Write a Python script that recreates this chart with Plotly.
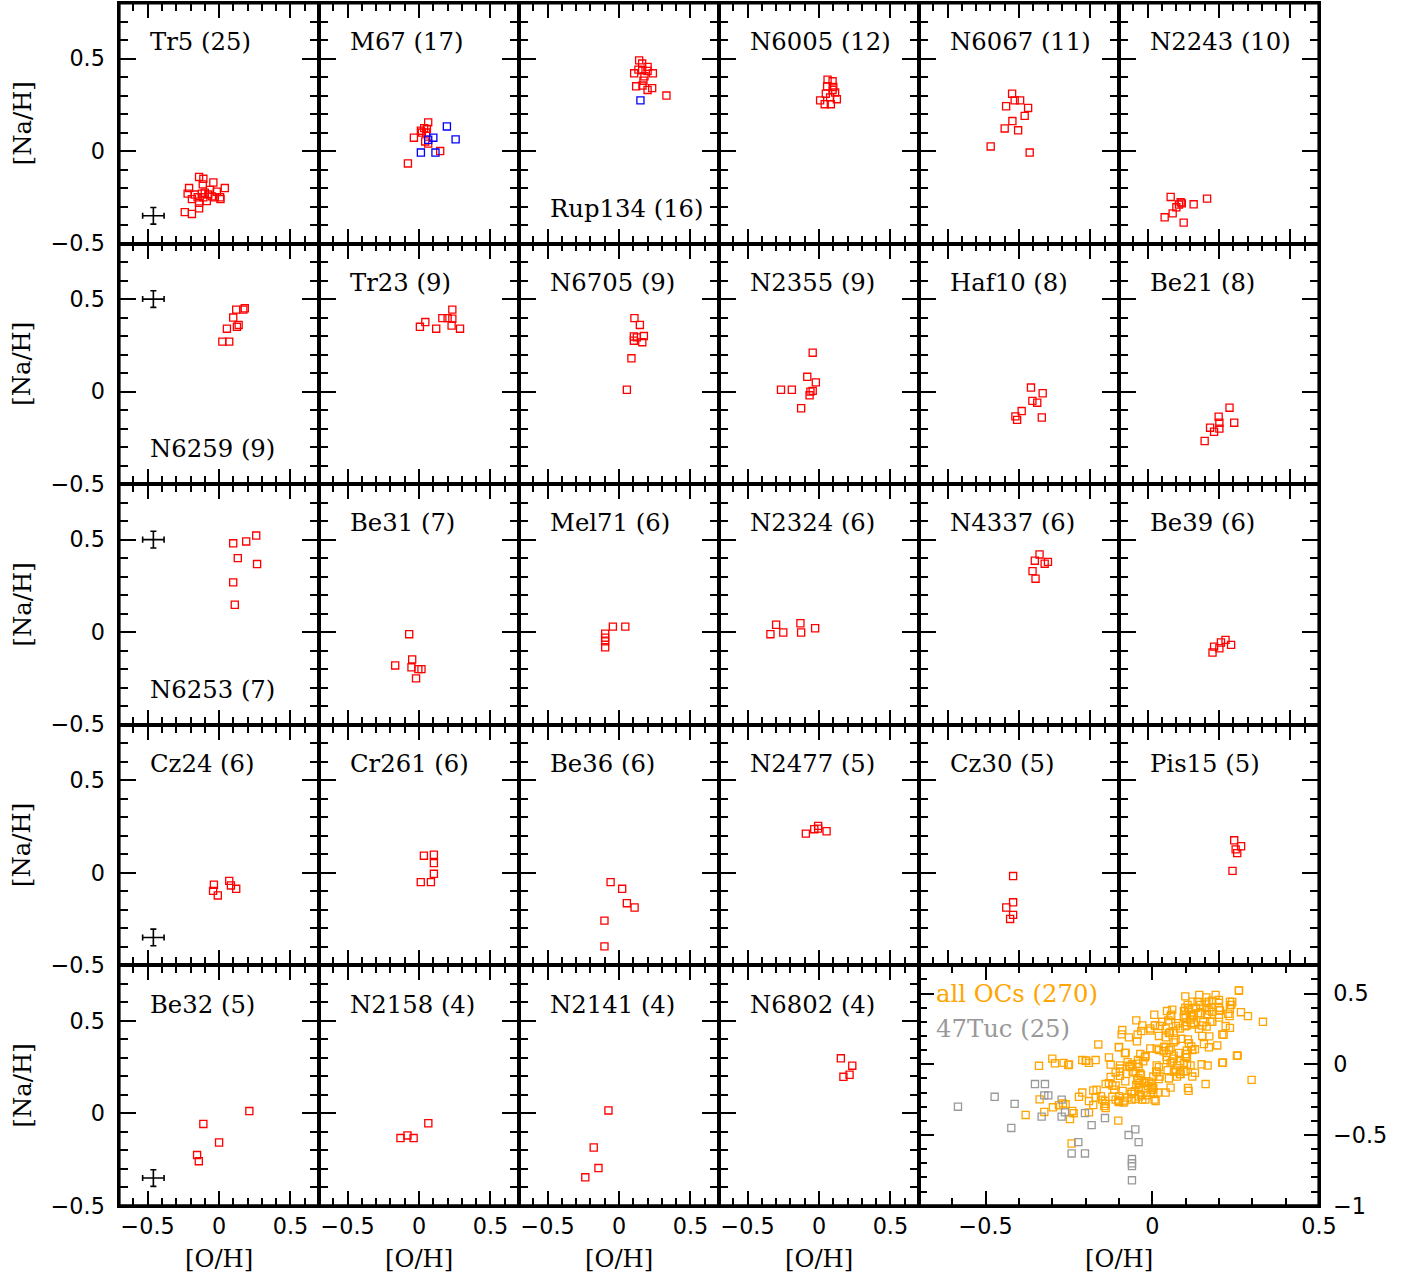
import plotly.graph_objects as go

W, H = 1421, 1274          # target picture size (reference pixels)
# the page is photographed slightly reduced (about 1421/1440), so the figure is
# laid out at 1440 x 1291 and every position is given as a fraction of W, H
FW, FH = 1440, 1291
K = FW / W                 # pixel-size compensation factor

# ---------------- data: [O/H] and [Na/H] per cluster ----------------
TR5_O = [-0.14, -0.11, -0.114, -0.21, -0.04, 0.04, -0.22, -0.17, -0.19, -0.12, -0.10, -0.075, -0.05,
         -0.016, 0.007, 0.01, -0.086, -0.14, -0.14, -0.24, -0.19, -0.11, -0.063, -0.03, -0.15]
TR5_NA = [-0.14, -0.15, -0.18, -0.20, -0.17, -0.20, -0.23, -0.235, -0.26, -0.23, -0.225, -0.235, -0.245,
          -0.22, -0.25, -0.26, -0.27, -0.28, -0.31, -0.33, -0.34, -0.25, -0.21, -0.25, -0.25]
M67_O = [-0.078, -0.036, 0.02, 0.036, 0.064, 0.055, 0.043, 0.064, 0.148, 0.013, 0.05]
M67_NA = [-0.067, 0.072, 0.10, 0.124, 0.155, 0.12, 0.052, 0.04, 0.0, 0.11, 0.10]
M67B_O = [0.013, 0.115, 0.064, 0.10, 0.195, 0.256]
M67B_NA = [-0.008, -0.008, 0.061, 0.072, 0.133, 0.063]
RUP134_O = [0.141, 0.162, 0.136, 0.106, 0.162, 0.20, 0.20, 0.237, 0.178, 0.171, 0.12, 0.164, 0.20, 0.232, 0.332]
RUP134_NA = [0.49, 0.473, 0.44, 0.42, 0.437, 0.455, 0.433, 0.42, 0.404, 0.38, 0.35, 0.354, 0.33, 0.34, 0.30]
RUP134B_O = [0.15]
RUP134B_NA = [0.274]
N6005_O = [0.06, 0.095, 0.057, 0.10, 0.113, 0.048, 0.008, 0.04, 0.083, 0.125, 0.095, 0.078]
N6005_NA = [0.386, 0.377, 0.35, 0.346, 0.316, 0.31, 0.274, 0.253, 0.253, 0.28, 0.33, 0.29]
N6067_O = [-0.048, -0.03, 0.008, -0.09, 0.064, 0.04, -0.046, -0.10, -0.006, -0.198, 0.075]
N6067_NA = [0.31, 0.274, 0.274, 0.242, 0.233, 0.19, 0.162, 0.122, 0.112, 0.025, -0.008]
N2243_O = [-0.338, -0.083, -0.177, -0.268, -0.28, -0.298, -0.324, -0.38, -0.247, -0.26]
N2243_NA = [-0.248, -0.257, -0.288, -0.277, -0.289, -0.304, -0.337, -0.358, -0.387, -0.283]
N6259_O = [0.12, 0.17, 0.18, 0.099, 0.137, 0.125, 0.055, 0.023, 0.071]
N6259_NA = [0.443, 0.443, 0.45, 0.40, 0.36, 0.35, 0.34, 0.27, 0.27]
TR23_O = [0.233, 0.163, 0.20, 0.233, 0.044, 0.006, 0.12, 0.228, 0.287]
TR23_NA = [0.443, 0.397, 0.397, 0.394, 0.376, 0.35, 0.34, 0.357, 0.34]
N6705_O = [0.108, 0.146, 0.104, 0.125, 0.174, 0.163, 0.104, 0.087, 0.055]
N6705_NA = [0.397, 0.36, 0.298, 0.293, 0.30, 0.267, 0.275, 0.18, 0.01]
N2355_O = [-0.044, -0.082, -0.022, -0.266, -0.19, -0.06, -0.044, -0.066, -0.125]
N2355_NA = [0.21, 0.08, 0.05, 0.01, 0.01, 0.0, 0.004, -0.02, -0.09]
HAF10_O = [0.084, 0.166, 0.094, 0.128, 0.019, -0.025, -0.013, 0.16]
HAF10_NA = [0.022, -0.009, -0.05, -0.06, -0.105, -0.134, -0.153, -0.14]
BE21_O = [0.074, -0.002, 0.107, 0.003, -0.062, 0.003, -0.034, -0.10]
BE21_NA = [-0.087, -0.136, -0.168, -0.168, -0.195, -0.20, -0.217, -0.267]
N6253_O = [0.26, 0.19, 0.099, 0.131, 0.266, 0.099, 0.11]
N6253_NA = [0.522, 0.49, 0.48, 0.40, 0.368, 0.269, 0.148]
BE31_O = [-0.069, -0.048, -0.167, -0.053, -0.005, 0.017, -0.021]
BE31_NA = [-0.011, -0.147, -0.18, -0.19, -0.20, -0.20, -0.25]
MEL71_O = [-0.043, 0.044, -0.097, -0.097, -0.097, -0.097]
MEL71_NA = [0.03, 0.03, -0.008, -0.03, -0.05, -0.082]
N2324_O = [-0.30, -0.34, -0.25, -0.13, -0.125, -0.027]
N2324_NA = [0.04, -0.011, -0.002, 0.048, -0.002, 0.021]
N4337_O = [0.144, 0.111, 0.203, 0.18, 0.095, 0.116]
N4337_NA = [0.42, 0.386, 0.38, 0.37, 0.33, 0.289]
BE39_O = [0.046, 0.085, 0.014, -0.034, 0.003, -0.045]
BE39_NA = [-0.042, -0.069, -0.056, -0.078, -0.087, -0.11]
CZ24_O = [-0.036, 0.071, 0.083, 0.12, -0.042, -0.009]
CZ24_NA = [-0.065, -0.044, -0.069, -0.087, -0.098, -0.123]
CR261_O = [0.034, 0.104, 0.104, 0.104, 0.012, 0.083]
CR261_NA = [0.092, 0.097, 0.052, -0.006, -0.051, -0.051]
BE36_O = [-0.059, 0.022, 0.055, 0.109, -0.102, -0.102]
BE36_NA = [-0.051, -0.087, -0.165, -0.188, -0.259, -0.398]
N2477_O = [-0.006, -0.006, 0.053, -0.092, -0.033]
N2477_NA = [0.253, 0.238, 0.224, 0.211, 0.235]
CZ30_O = [-0.041, -0.041, -0.089, -0.041, -0.062]
CZ30_NA = [-0.018, -0.16, -0.188, -0.228, -0.25]
PIS15_O = [0.107, 0.155, 0.117, 0.128, 0.095]
PIS15_NA = [0.175, 0.143, 0.126, 0.106, 0.01]
BE32_O = [0.212, -0.11, 0.0, -0.154, -0.142]
BE32_NA = [0.012, -0.058, -0.158, -0.226, -0.259]
N2158_O = [-0.13, -0.081, -0.038, 0.065]
N2158_NA = [-0.134, -0.12, -0.134, -0.054]
N2141_O = [-0.074, -0.177, -0.144, -0.236]
N2141_NA = [0.015, -0.185, -0.296, -0.346]
N6802_O = [0.153, 0.233, 0.214, 0.171]
N6802_NA = [0.297, 0.257, 0.208, 0.197]

# stars of clusters not shown individually (part of "all OCs")
OTHER_O = [0.298, 0.254, 0.26, 0.21, 0.21, -0.242, -0.162, -0.21, -0.20, -0.17, -0.292, -0.252, -0.10,
           -0.08, -0.07, 0.02, 0.05, 0.07, 0.04, 0.08, 0.06, 0.02, -0.02, 0.10, 0.12, 0.15, 0.18, 0.20,
           0.14, 0.05, -0.02, 0.0, -0.05, 0.10, 0.17, 0.22, 0.24, -0.12, 0.03]
OTHER_NA = [-0.11, 0.06, 0.52, 0.01, 0.21, -0.56, 0.14, 0.03, 0.025, 0.03, 0.007, -0.005, 0.12,
            0.08, 0.19, 0.20, 0.22, 0.17, 0.12, 0.08, 0.02, -0.02, 0.06, 0.05, 0.10, 0.20, 0.30, 0.35,
            0.25, -0.10, -0.12, -0.18, -0.06, -0.05, 0.12, 0.27, 0.44, -0.15, 0.30]

TUC47_O = [-0.583, -0.473, -0.413, -0.423, -0.352, -0.322, -0.324, -0.312, -0.332, -0.272, -0.272, -0.262,
           -0.202, -0.182, -0.142, -0.222, -0.242, -0.202, -0.071, -0.051, -0.041, -0.061, -0.061, -0.061, -0.061]
TUC47_NA = [-0.30, -0.23, -0.28, -0.45, -0.14, -0.14, -0.22, -0.22, -0.37, -0.25, -0.37, -0.34,
            -0.345, -0.43, -0.38, -0.55, -0.63, -0.63, -0.50, -0.46, -0.55, -0.67, -0.70, -0.72, -0.82]

# typical error bars ([O/H], [Na/H]) and where they are drawn
ERR_O, ERR_NA = 0.075, 0.045
ERRBAR_O = -0.46
ERRBAR_NA = {"Tr5": -0.35, "N6259": 0.5, "N6253": 0.5, "Cz24": -0.35, "Be32": -0.35}

PANELS = [
    ("Tr5", "Tr5 (25)", TR5_O, TR5_NA, None, None, "top"),
    ("M67", "M67 (17)", M67_O, M67_NA, M67B_O, M67B_NA, "top"),
    ("Rup134", "Rup134 (16)", RUP134_O, RUP134_NA, RUP134B_O, RUP134B_NA, "bottom"),
    ("N6005", "N6005 (12)", N6005_O, N6005_NA, None, None, "top"),
    ("N6067", "N6067 (11)", N6067_O, N6067_NA, None, None, "top"),
    ("N2243", "N2243 (10)", N2243_O, N2243_NA, None, None, "top"),
    ("N6259", "N6259 (9)", N6259_O, N6259_NA, None, None, "bottom"),
    ("Tr23", "Tr23 (9)", TR23_O, TR23_NA, None, None, "top"),
    ("N6705", "N6705 (9)", N6705_O, N6705_NA, None, None, "top"),
    ("N2355", "N2355 (9)", N2355_O, N2355_NA, None, None, "top"),
    ("Haf10", "Haf10 (8)", HAF10_O, HAF10_NA, None, None, "top"),
    ("Be21", "Be21 (8)", BE21_O, BE21_NA, None, None, "top"),
    ("N6253", "N6253 (7)", N6253_O, N6253_NA, None, None, "bottom"),
    ("Be31", "Be31 (7)", BE31_O, BE31_NA, None, None, "top"),
    ("Mel71", "Mel71 (6)", MEL71_O, MEL71_NA, None, None, "top"),
    ("N2324", "N2324 (6)", N2324_O, N2324_NA, None, None, "top"),
    ("N4337", "N4337 (6)", N4337_O, N4337_NA, None, None, "top"),
    ("Be39", "Be39 (6)", BE39_O, BE39_NA, None, None, "top"),
    ("Cz24", "Cz24 (6)", CZ24_O, CZ24_NA, None, None, "top"),
    ("Cr261", "Cr261 (6)", CR261_O, CR261_NA, None, None, "top"),
    ("Be36", "Be36 (6)", BE36_O, BE36_NA, None, None, "top"),
    ("N2477", "N2477 (5)", N2477_O, N2477_NA, None, None, "top"),
    ("Cz30", "Cz30 (5)", CZ30_O, CZ30_NA, None, None, "top"),
    ("Pis15", "Pis15 (5)", PIS15_O, PIS15_NA, None, None, "top"),
    ("Be32", "Be32 (5)", BE32_O, BE32_NA, None, None, "top"),
    ("N2158", "N2158 (4)", N2158_O, N2158_NA, None, None, "top"),
    ("N2141", "N2141 (4)", N2141_O, N2141_NA, None, None, "top"),
    ("N6802", "N6802 (4)", N6802_O, N6802_NA, None, None, "top"),
]

# ---------------- layout geometry (reference pixels) ----------------
PL, PR = 119.0, 1318.0
PT, PB = 3.0, 1202.0
PW = (PR - PL) / 6
PH = (PB - PT) / 5
RED, BLUE, ORANGE, GREY = "#ff0000", "#0000ff", "#ffa500", "#999999"
LABEL_FONT = dict(family="DejaVu Serif", size=24 * K, color="black")
TICK_FONT = dict(family="DejaVu Sans", size=22 * K, color="black")
LW = 1.6 * K
MS = 7 * K


def px(xp):
    return xp / W


def py(yp):
    return 1 - yp / H


def axis_style(major_len, minor_len, standoff):
    return dict(showline=True, linecolor="black", linewidth=LW, mirror="ticks",
                ticks="inside", ticklen=major_len * K, tickwidth=2 * K, tickcolor="black",
                showgrid=False, zeroline=False, dtick=0.5, tick0=0,
                tickfont=TICK_FONT, ticklabelstandoff=standoff,
                minor=dict(ticks="inside", ticklen=minor_len * K, tickwidth=1.6 * K,
                           tickcolor="black", dtick=0.1, tick0=0, showgrid=False),
                fixedrange=True)


def square(color):
    return dict(symbol="square-open", size=MS, color=color, line=dict(width=1.3 * K))


fig = go.Figure()
layout = {}
annotations = []

for i, (key, label, xo, yna, xb, ynb, pos) in enumerate(PANELS):
    r, c = divmod(i, 6)
    n = i + 1
    xa = "x" if n == 1 else f"x{n}"
    ya = "y" if n == 1 else f"y{n}"
    x0 = PL + c * PW
    y0 = PT + r * PH
    xs = axis_style(15, 8, 0)
    xs.update(domain=[px(x0), px(x0 + PW)], range=[-0.7, 0.7], anchor=ya,
              showticklabels=(r == 4))
    ys = axis_style(17, 9, 8)
    ys.update(domain=[py(y0 + PH), py(y0)], range=[-0.5, 0.8], anchor=xa,
              showticklabels=(c == 0))
    layout["xaxis" if n == 1 else f"xaxis{n}"] = xs
    layout["yaxis" if n == 1 else f"yaxis{n}"] = ys

    fig.add_trace(go.Scatter(x=xo, y=yna, mode="markers", marker=square(RED),
                             xaxis=xa, yaxis=ya, showlegend=False, hoverinfo="skip"))
    if xb is not None:
        fig.add_trace(go.Scatter(x=xb, y=ynb, mode="markers", marker=square(BLUE),
                                 xaxis=xa, yaxis=ya, showlegend=False, hoverinfo="skip"))
    if key in ERRBAR_NA:
        fig.add_trace(go.Scatter(x=[ERRBAR_O], y=[ERRBAR_NA[key]], mode="markers",
                                 marker=dict(size=1, color="black", opacity=0),
                                 error_x=dict(type="constant", value=ERR_O, color="black",
                                              thickness=1.6 * K, width=3 * K),
                                 error_y=dict(type="constant", value=ERR_NA, color="black",
                                              thickness=1.6 * K, width=3 * K),
                                 xaxis=xa, yaxis=ya, showlegend=False, hoverinfo="skip"))
    annotations.append(dict(text=label, xref=xa, yref=ya, x=-0.5,
                            y=(0.59 if pos == "top" else -0.31),
                            xanchor="left", yanchor="middle", showarrow=False, font=LABEL_FONT))

# ---------------- combined panel ----------------
ALL_O = []
ALL_NA = []
for (_, _, xo, yna, xb, ynb, _) in PANELS:
    ALL_O += xo
    ALL_NA += yna
    if xb is not None:
        ALL_O += xb
        ALL_NA += ynb
ALL_O += OTHER_O
ALL_NA += OTHER_NA

x0 = PL + 4 * PW
y0 = PT + 4 * PH
xs = axis_style(15, 8, 0)
xs.update(domain=[px(x0), px(PR)], range=[-0.7, 0.5], anchor="y30", showticklabels=True)
ys = axis_style(15, 8, 8)
ys.update(domain=[py(PB), py(y0)], range=[-1.0, 0.7], anchor="x30", side="right", showticklabels=True)
layout["xaxis30"] = xs
layout["yaxis30"] = ys
fig.add_trace(go.Scatter(x=ALL_O, y=ALL_NA, mode="markers", marker=square(ORANGE),
                         xaxis="x30", yaxis="y30", showlegend=False, hoverinfo="skip"))
fig.add_trace(go.Scatter(x=TUC47_O, y=TUC47_NA, mode="markers", marker=square(GREY),
                         xaxis="x30", yaxis="y30", showlegend=False, hoverinfo="skip"))
annotations.append(dict(text=f"all OCs ({len(ALL_O)})", xref="x30", yref="y30", x=-0.655, y=0.5,
                        xanchor="left", yanchor="middle", showarrow=False,
                        font=dict(family="DejaVu Serif", size=24 * K, color=ORANGE)))
annotations.append(dict(text=f"47Tuc ({len(TUC47_O)})", xref="x30", yref="y30", x=-0.655, y=0.25,
                        xanchor="left", yanchor="middle", showarrow=False,
                        font=dict(family="DejaVu Serif", size=24 * K, color=GREY)))

# ---------------- axis titles ----------------
for r in range(5):
    annotations.append(dict(text="[Na/H]", xref="paper", yref="paper", x=px(22),
                            y=py(PT + r * PH + PH / 2), textangle=-90,
                            xanchor="center", yanchor="middle", showarrow=False, font=LABEL_FONT))
for c in range(4):
    annotations.append(dict(text="[O/H]", xref="paper", yref="paper", x=px(PL + c * PW + PW / 2),
                            y=py(1255), xanchor="center", yanchor="middle",
                            showarrow=False, font=LABEL_FONT))
annotations.append(dict(text="[O/H]", xref="paper", yref="paper", x=px(PL + 5 * PW),
                        y=py(1255), xanchor="center", yanchor="middle",
                        showarrow=False, font=LABEL_FONT))

# outer frame of the whole grid (drawn thicker, like the original)
shapes = [dict(type="rect", xref="paper", yref="paper",
               x0=px(PL), x1=px(PR), y0=py(PB), y1=py(PT),
               line=dict(color="black", width=3 * K), fillcolor="rgba(0,0,0,0)", layer="above")]

fig.update_layout(width=FW, height=FH, margin=dict(l=0, r=0, t=0, b=0),
                  paper_bgcolor="white", plot_bgcolor="white",
                  annotations=annotations, shapes=shapes, showlegend=False, **layout)

fig.write_html("out.html", config={"displayModeBar": False},
               post_script=("document.documentElement.style.overflow='hidden';"
                            "document.body.style.overflow='hidden';"
                            "document.body.style.margin='0';"))
